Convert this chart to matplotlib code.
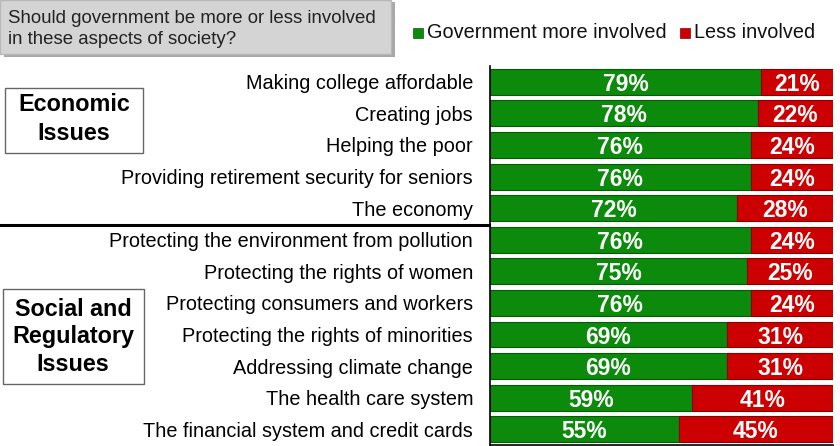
import matplotlib.pyplot as plt
from matplotlib.patches import Rectangle

plt.rcParams['font.family'] = ['Liberation Sans', 'DejaVu Sans']

issues = [
    'Making college affordable',
    'Creating jobs',
    'Helping the poor',
    'Providing retirement security for seniors',
    'The economy',
    'Protecting the environment from pollution',
    'Protecting the rights of women',
    'Protecting consumers and workers',
    'Protecting the rights of minorities',
    'Addressing climate change',
    'The health care system',
    'The financial system and credit cards',
]
more_involved = [79, 78, 76, 76, 72, 76, 75, 76, 69, 69, 59, 55]
less_involved = [21, 22, 24, 24, 28, 24, 25, 24, 31, 31, 41, 45]

green = '#0b8a0b'
red = '#cc0000'

fig = plt.figure(figsize=(8.4, 4.46), dpi=100)
ax = fig.add_axes([0.583, 0.002, 0.409, 0.850])

ys = list(range(len(issues)))
ax.barh(ys, more_involved, height=0.82, color=green, edgecolor='#0a5a0a', linewidth=0.8)
ax.barh(ys, less_involved, left=more_involved, height=0.82, color=red,
        edgecolor='#8a0000', linewidth=0.8)

for y, m, l in zip(ys, more_involved, less_involved):
    ax.text(m / 2, y, f'{m}%', ha='center', va='center_baseline', color='white',
            fontsize=16.5, fontweight='bold')
    ax.text(m + l / 2, y, f'{l}%', ha='center', va='center_baseline', color='white',
            fontsize=16.5, fontweight='bold')

ax.set_xlim(0, 100)
ax.set_ylim(len(issues) - 0.5, -0.5)
ax.set_xticks([])
ax.set_yticks(ys)
ax.set_yticklabels(issues, fontsize=14.3)
ax.tick_params(axis='y', length=0, pad=12)
for s in ['top', 'right']:
    ax.spines[s].set_visible(False)
ax.spines['left'].set_linewidth(1.2)
ax.spines['bottom'].set_linewidth(1.2)

# separator between the two groups
fig.add_artist(plt.Line2D([0, 0.582], [1 - 225 / 446, 1 - 225 / 446],
                          color='black', linewidth=2.2))

# question box with shadow
fig.add_artist(Rectangle((4 / 840, 1 - 57 / 446), 391 / 840, 55 / 446,
                         facecolor='#a8a8a8', edgecolor='none'))
fig.add_artist(Rectangle((0, 1 - 54 / 446), 391 / 840, 54 / 446,
                         facecolor='#d4d4d4', edgecolor='#b8b8b8', linewidth=1))
fig.text(8 / 840, 1 - 29 / 446,
         'Should government be more or less involved\nin these aspects of society?',
         fontsize=13.4, color='#222222', va='center', ha='left', linespacing=1.38)

# legend
fig.add_artist(Rectangle((413 / 840, 1 - 38 / 446), 10 / 840, 10 / 446,
                         facecolor=green, edgecolor='#0a5a0a', linewidth=0.5))
fig.text(427 / 840, 1 - 33 / 446, 'Government more involved', fontsize=14.3,
         va='center', ha='left', color='#111111')
fig.add_artist(Rectangle((680 / 840, 1 - 38 / 446), 10 / 840, 10 / 446,
                         facecolor=red, edgecolor='#8a0000', linewidth=0.5))
fig.text(694 / 840, 1 - 33 / 446, 'Less involved', fontsize=14.3,
         va='center', ha='left', color='#111111')

# group boxes
fig.add_artist(Rectangle((5 / 840, 1 - 153 / 446), 138 / 840, 65 / 446,
                         facecolor='white', edgecolor='#666666', linewidth=1))
fig.text(74 / 840, 1 - 119 / 446, 'Economic\nIssues', fontsize=16.8, fontweight='bold',
         ha='center', va='center', linespacing=1.3)
fig.add_artist(Rectangle((3 / 840, 1 - 384 / 446), 141 / 840, 95 / 446,
                         facecolor='white', edgecolor='#666666', linewidth=1))
fig.text(73 / 840, 1 - 337 / 446, 'Social and\nRegulatory\nIssues', fontsize=16.8,
         fontweight='bold', ha='center', va='center', linespacing=1.25)

fig.savefig('out.png', dpi=100)
